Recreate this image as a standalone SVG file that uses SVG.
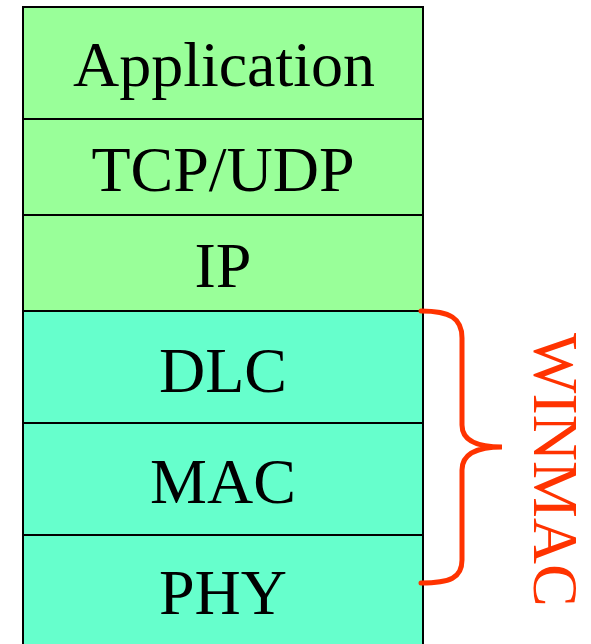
<svg xmlns="http://www.w3.org/2000/svg" width="591" height="644" viewBox="0 0 591 644">
<style>
.lbl{font-family:"Liberation Serif","Times New Roman",serif;font-size:64px;fill:#000;text-anchor:middle}
.g{fill:#99FF99;stroke:#000;stroke-width:2}
.t{fill:#66FFCC;stroke:#000;stroke-width:2}
</style>
<rect width="591" height="644" fill="#fff"/>
<g id="application"><rect class="g" x="23" y="7" width="400" height="112"/><text class="lbl" x="224" y="86">Application</text></g>
<g id="tcpudp"><rect class="g" x="23" y="119" width="400" height="96"/><text class="lbl" x="223" y="191">TCP/UDP</text></g>
<g id="ip"><rect class="g" x="23" y="215" width="400" height="96"/><text class="lbl" x="223" y="287">IP</text></g>
<g id="dlc"><rect class="t" x="23" y="311" width="400" height="112"/><text class="lbl" x="223" y="392">DLC</text></g>
<g id="mac"><rect class="t" x="23" y="423" width="400" height="112"/><text class="lbl" x="223" y="503">MAC</text></g>
<g id="phy"><rect class="t" x="23" y="535" width="400" height="120"/><text class="lbl" x="223" y="614">PHY</text></g>
<g id="connectors">
<path d="M421 311 C450 311 462 318 462 338 L462 425 C462 440 475 447 502 447 C475 447 462 455 462 470 L462 560 C462 578 450 583 421 583" fill="none" stroke="#FF3300" stroke-width="5" stroke-linecap="round"/>
</g>
<g id="winmac"><text transform="translate(534 333) rotate(90)" x="0" y="0" style="font-family:'Liberation Serif','Times New Roman',serif;font-size:64px;fill:#FF3300">WINMAC</text></g>
</svg>
